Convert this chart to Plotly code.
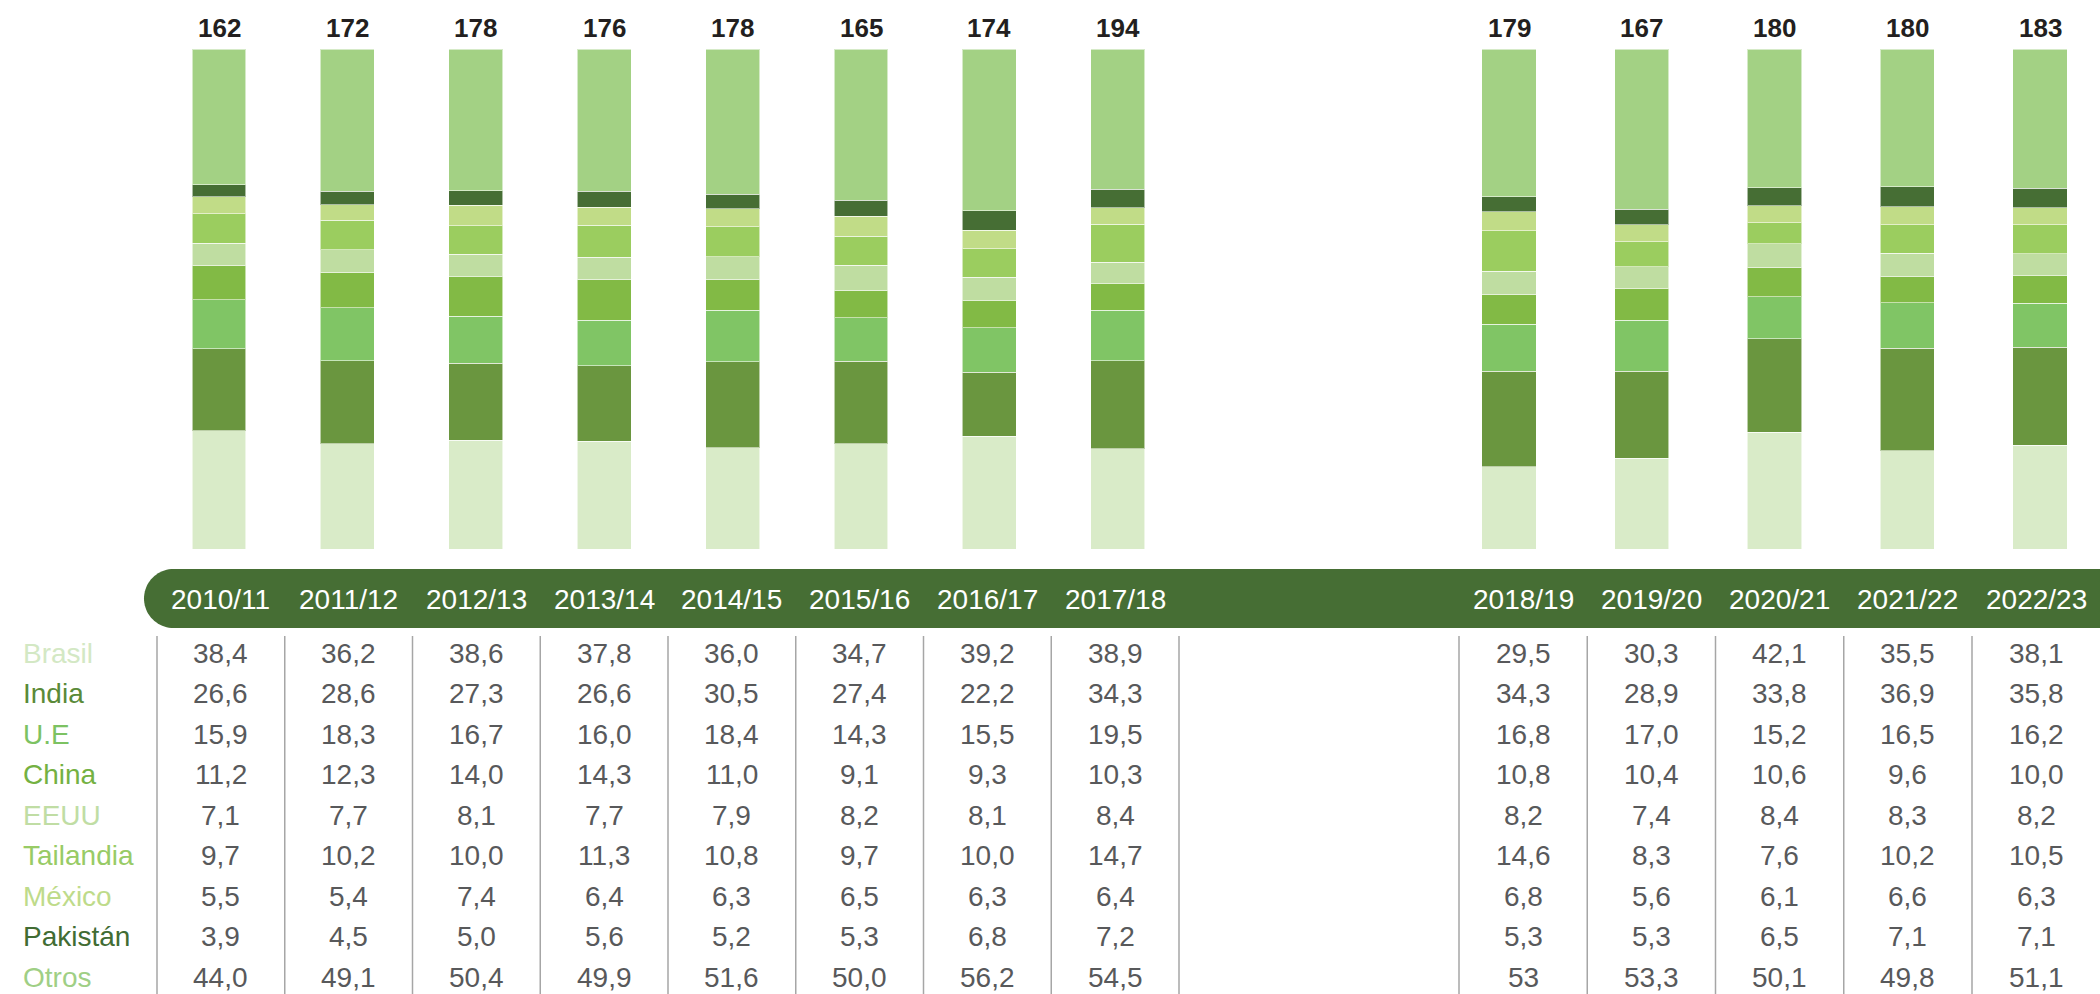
import math
import plotly.graph_objects as go

W, H = 2100, 994

# ---------------- data ----------------
years = ["2010/11", "2011/12", "2012/13", "2013/14", "2014/15", "2015/16", "2016/17", "2017/18",
         "2018/19", "2019/20", "2020/21", "2021/22", "2022/23"]
totals = [162, 172, 178, 176, 178, 165, 174, 194, 179, 167, 180, 180, 183]

countries = ["Brasil", "India", "U.E", "China", "EEUU", "Tailandia", "México", "Pakistán", "Otros"]
brasil = [38.4, 36.2, 38.6, 37.8, 36.0, 34.7, 39.2, 38.9, 29.5, 30.3, 42.1, 35.5, 38.1]
india = [26.6, 28.6, 27.3, 26.6, 30.5, 27.4, 22.2, 34.3, 34.3, 28.9, 33.8, 36.9, 35.8]
ue = [15.9, 18.3, 16.7, 16.0, 18.4, 14.3, 15.5, 19.5, 16.8, 17.0, 15.2, 16.5, 16.2]
china = [11.2, 12.3, 14.0, 14.3, 11.0, 9.1, 9.3, 10.3, 10.8, 10.4, 10.6, 9.6, 10.0]
eeuu = [7.1, 7.7, 8.1, 7.7, 7.9, 8.2, 8.1, 8.4, 8.2, 7.4, 8.4, 8.3, 8.2]
tailandia = [9.7, 10.2, 10.0, 11.3, 10.8, 9.7, 10.0, 14.7, 14.6, 8.3, 7.6, 10.2, 10.5]
mexico = [5.5, 5.4, 7.4, 6.4, 6.3, 6.5, 6.3, 6.4, 6.8, 5.6, 6.1, 6.6, 6.3]
pakistan = [3.9, 4.5, 5.0, 5.6, 5.2, 5.3, 6.8, 7.2, 5.3, 5.3, 6.5, 7.1, 7.1]
otros = [44.0, 49.1, 50.4, 49.9, 51.6, 50.0, 56.2, 54.5, 53, 53.3, 50.1, 49.8, 51.1]

series = [brasil, india, ue, china, eeuu, tailandia, mexico, pakistan, otros]

bar_colors = ["#D9EBC8", "#6A963F", "#80C565", "#82BA45", "#BFDDA1",
              "#9BCD5F", "#C1DC87", "#466E34", "#A3D184"]
label_colors = ["#D3E8C4", "#5A8A38", "#7CC262", "#74B142", "#C0DDA4",
                "#98CB66", "#BEDB8A", "#416C33", "#9FCF85"]

N_LEFT = 8  # first block of seasons; the rest form the second block

FONT = "Liberation Sans, Arial, Helvetica, sans-serif"


def px(xp):
    return xp / W


def py(yp):
    return 1 - yp / H


def fmt(v):
    if isinstance(v, float):
        return f"{v:.1f}".replace(".", ",")
    return str(v)


fig = go.Figure()

# ---------------- stacked (normalised) bars ----------------
left_years = years[:N_LEFT]
right_years = years[N_LEFT:]
for name, vals, col in zip(countries, series, bar_colors):
    fig.add_trace(go.Bar(
        x=left_years, y=vals[:N_LEFT], name=name, marker_color=col,
        marker_line=dict(color="rgba(255,255,255,0.55)", width=1),
        width=0.42, xaxis="x", yaxis="y", showlegend=False, hoverinfo="x+y+name"))
    fig.add_trace(go.Bar(
        x=right_years, y=vals[N_LEFT:], name=name, marker_color=col,
        marker_line=dict(color="rgba(255,255,255,0.55)", width=1),
        width=0.41, xaxis="x2", yaxis="y", showlegend=False, hoverinfo="x+y+name"))

# axis geometry (pixels)
left_slot = 128.4
left_c0 = 219.0
right_slot = 132.75
right_c0 = 1509.0
lx0 = left_c0 - left_slot / 2
lx1 = left_c0 + left_slot * (N_LEFT - 0.5)
rx0 = right_c0 - right_slot / 2
n_right = len(right_years)
rx1_full = right_c0 + right_slot * (n_right - 0.5)
r_range_hi = (n_right - 0.5) - max(0, rx1_full - W) / right_slot

ann = []

# total labels
for i, (yr, t) in enumerate(zip(years, totals)):
    ann.append(dict(x=yr, xref="x" if i < N_LEFT else "x2", y=py(28), yref="paper",
                    text="<b>" + str(t) + "</b>", showarrow=False,
                    font=dict(family=FONT, size=26, color="#231F20"), yanchor="middle",
                    xanchor="center"))

# ---------------- table ----------------
tab_l0, tab_lw = 157.0, 127.75
tab_r0, tab_rw = 1459.0, 128.25
col_centers = [tab_l0 + tab_lw * (k + 0.5) for k in range(N_LEFT)] + \
              [tab_r0 + tab_rw * (k + 0.5) for k in range(n_right)]
seps = [tab_l0 + tab_lw * k for k in range(N_LEFT + 1)] + \
       [tab_r0 + tab_rw * k for k in range(n_right)]

band_top, band_bot, band_left = 569.0, 628.0, 144.0
band_mid = (band_top + band_bot) / 2
row_y0, row_dy = 653.0, 40.5

shapes = []
# dark band with rounded left end
r = (band_bot - band_top) / 2
pts = [(W, band_top), (band_left + r, band_top)]
for k in range(1, 40):
    ang = math.pi / 2 + math.pi * k / 40
    pts.append((band_left + r + r * math.cos(ang), band_mid - r * math.sin(ang)))
pts += [(band_left + r, band_bot), (W, band_bot)]
path = "M " + " L ".join(f"{px(a):.5f},{py(b):.5f}" for a, b in pts) + " Z"
shapes.append(dict(type="path", path=path, xref="paper", yref="paper",
                   fillcolor="#466E34", line=dict(width=0), layer="above"))

# column separators
for s in seps:
    shapes.append(dict(type="line", xref="paper", yref="paper", x0=px(s), x1=px(s),
                       y0=py(636), y1=py(H), line=dict(color="#A6A6A6", width=1.5)))

# year labels in band
for yr, cx in zip(years, col_centers):
    ann.append(dict(x=px(cx), y=py(band_mid + 1), xref="paper", yref="paper", text=yr,
                    showarrow=False, font=dict(family=FONT, size=28, color="#FFFFFF"),
                    xanchor="center", yanchor="middle"))

# row labels and values
for ri, (name, vals, lc) in enumerate(zip(countries, series, label_colors)):
    yy = py(row_y0 + row_dy * ri)
    ann.append(dict(x=px(21), y=yy, xref="paper", yref="paper", text=name, showarrow=False,
                    font=dict(family=FONT, size=28, color=lc), xanchor="left", yanchor="middle"))
    for v, cx in zip(vals, col_centers):
        ann.append(dict(x=px(cx), y=yy, xref="paper", yref="paper", text=fmt(v), showarrow=False,
                        font=dict(family=FONT, size=28, color="#58595B"),
                        xanchor="center", yanchor="middle"))

fig.update_layout(
    width=W, height=H, autosize=False,
    margin=dict(l=0, r=0, t=0, b=0, pad=0),
    paper_bgcolor="white", plot_bgcolor="white",
    barmode="stack", barnorm="percent",
    xaxis=dict(domain=[px(lx0), px(lx1)], range=[-0.5, N_LEFT - 0.5], type="category",
               showticklabels=False, showgrid=False, zeroline=False, showline=False, ticks=""),
    xaxis2=dict(domain=[px(rx0), 1.0], range=[-0.5, r_range_hi], type="category",
                anchor="y", showticklabels=False, showgrid=False, zeroline=False,
                showline=False, ticks=""),
    yaxis=dict(domain=[py(549), py(49)], range=[0, 100], showticklabels=False, showgrid=False,
               zeroline=False, showline=False, ticks=""),
    annotations=ann, shapes=shapes, showlegend=False,
)

fig.write_html(
    "out.html",
    config={"displayModeBar": False},
    post_script="document.body.style.margin='0';document.body.style.overflow='hidden';",
)
